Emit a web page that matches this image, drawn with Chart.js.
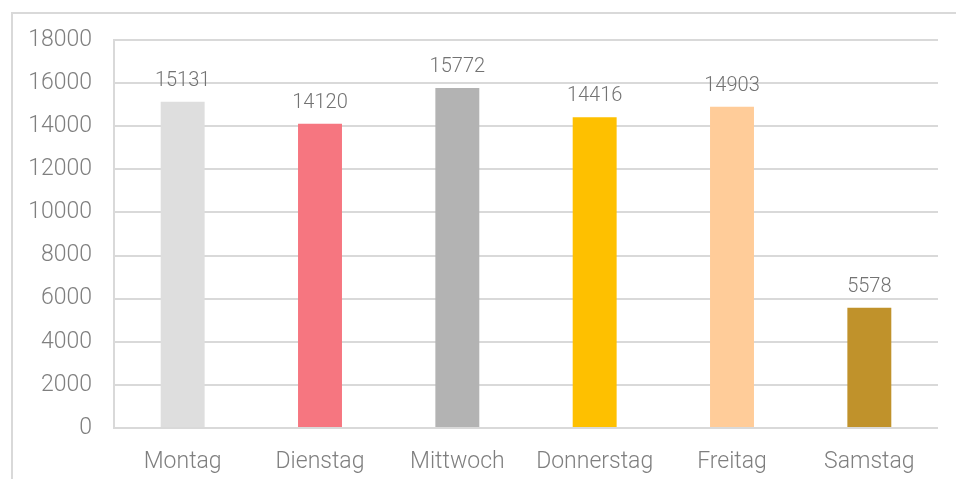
<!DOCTYPE html>
<html>
<head>
<meta charset="utf-8">
<script src="https://cdn.jsdelivr.net/npm/chart.js@4"></script>
<style>
  html, body { margin: 0; padding: 0; background: #fff; }
  #wrap { position: relative; width: 956px; height: 479px; }
  #frame { position: absolute; left: 11px; top: 12px; width: 960px; height: 480px; border: 2px solid #d9d9d9; box-sizing: border-box; }
  canvas { position: absolute; left: 0; top: 0; }
</style>
</head>
<body>
<div id="wrap">
  <div id="frame"></div>
  <canvas id="days" width="956" height="479"></canvas>
</div>
<script>
const days = ["Montag", "Dienstag", "Mittwoch", "Donnerstag", "Freitag", "Samstag"];
const counts = [15131, 14120, 15772, 14416, 14903, 5578];
const barColors = ["#dedede", "#f67680", "#b3b3b3", "#fec000", "#ffcc99", "#c0922b"];

const fontFam = "Roboto, 'Liberation Sans', sans-serif";
const textColor = "#7f7f7f";

// draw the values above each bar
const valueLabels = {
  id: "valueLabels",
  afterDatasetsDraw(chart) {
    const ctx = chart.ctx;
    const meta = chart.getDatasetMeta(0);
    ctx.save();
    ctx.font = "300 20px " + fontFam;
    ctx.fillStyle = "#737373";
    ctx.textAlign = "center";
    ctx.textBaseline = "alphabetic";
    meta.data.forEach((bar, i) => {
      ctx.fillText(String(chart.data.datasets[0].data[i]), bar.x, bar.y - 16);
    });
    ctx.restore();
  }
};

new Chart(document.getElementById("days"), {
  type: "bar",
  data: {
    labels: days,
    datasets: [{
      data: counts,
      backgroundColor: barColors,
      categoryPercentage: 1,
      barPercentage: 0.32
    }]
  },
  options: {
    responsive: false,
    animation: false,
    layout: { padding: { left: 0, top: 40, right: 18, bottom: 0 } },
    plugins: { legend: { display: false }, tooltip: { enabled: false } },
    scales: {
      x: {
        grid: { display: false, drawTicks: false },
        border: { display: false },
        ticks: { color: textColor, font: { family: fontFam, size: 23, weight: 300 }, padding: 20 },
        afterFit(scale) { scale.height = 51; }
      },
      y: {
        min: 0,
        max: 18000,
        ticks: {
          stepSize: 2000,
          color: textColor,
          font: { family: fontFam, size: 23, weight: 300 },
          padding: 22,
          callback: (v) => String(v)
        },
        grid: { color: "#d9d9d9", lineWidth: 2, drawTicks: false },
        border: { display: true, color: "#d9d9d9", width: 2 },
        afterFit(scale) { scale.width = 114; }
      }
    }
  },
  plugins: [valueLabels]
});
</script>
</body>
</html>
